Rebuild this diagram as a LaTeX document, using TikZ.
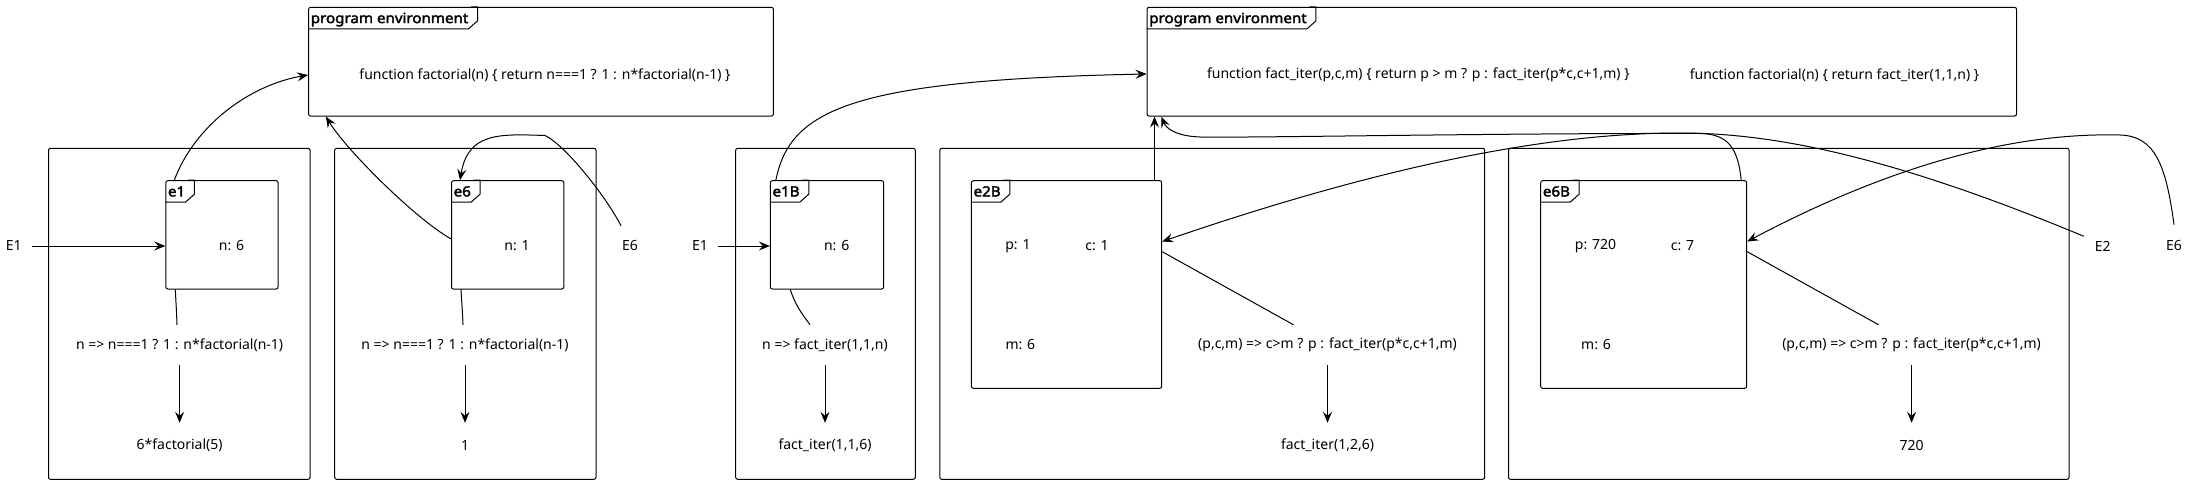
\documentclass[tikz,border=0pt]{standalone}
\usepackage{fontspec}
\setmainfont{Noto Sans}[BoldFont={Noto Sans}, BoldFeatures={FakeBold=2.5, FakeStretch=1.08}]
\usepackage{tikz}
\usetikzlibrary{arrows.meta,positioning,calc}

\newcommand{\dgsize}{\fontsize{14pt}{17pt}\selectfont}

\tikzset{
  envbox/.style={draw, rounded corners=2pt, line width=1pt, inner sep=0pt},
  tablabel/.style={font=\dgsize\bfseries, anchor=north west, inner xsep=2.5pt, inner ysep=0pt,
                   text height=16pt, text depth=5.6pt},
  codetext/.style={inner sep=0pt},
  exprtext/.style={inner sep=0pt, minimum height=40pt},
  valtext/.style={inner sep=0pt, minimum height=44pt},
  ptr/.style={inner sep=0pt},
  link/.style={line width=1pt},
  arr/.style={line width=1pt, -{Stealth[length=11pt,width=9pt,inset=4pt]}}
}

% tab in the upper left corner of a frame
\newcommand{\envtab}[2]{%
  \node[tablabel] (#1tab) at (#1.north west) {#2};
  \draw[line width=1pt] (#1tab.south west) -- ([xshift=-2.5pt]#1tab.south east) -- ++(9,-8) |- (#1tab.north east);
}

\begin{document}
\begin{tikzpicture}[x=1pt, y=-1pt, font=\dgsize]
    \useasboundingbox (0,0) rectangle (2188,484);

    % Recursive factorial: program environment
    \node[envbox, minimum width=464.8, minimum height=108.7] (PE1) at (541,61.7) {};
    \envtab{PE1}{program environment}
    \node[codetext] (defFact) at (545,75) {function factorial(n) \{ return n===1 ? 1 : n*factorial(n-1) \}};

    % Recursive factorial: call boxes
    \node[envbox, minimum width=261.5, minimum height=331] (boxA) at (179.25,313.8) {};
    \node[envbox, minimum width=261.3, minimum height=331] (boxB) at (465.35,313.8) {};

    \node[envbox, minimum width=112.2, minimum height=108.3] (e1) at (221.9,234.85) {};
    \envtab{e1}{e1}
    \node (e1n) at (231.5,246) {n: 6};
    \node[ptr] (E1a) at (13.8,246) {E1};
    \node[exprtext] (exprA) at (179.6,345) {n => n===1 ? 1 : n*factorial(n-1)};
    \node[valtext] (valA) at (179.6,445) {6*factorial(5)};

    \node[envbox, minimum width=112.3, minimum height=108.3] (e6) at (507.65,234.85) {};
    \envtab{e6}{e6}
    \node (e6n) at (517,246) {n: 1};
    \node[ptr] (E6a) at (630,246) {E6};
    \node[exprtext] (exprB) at (465,345) {n => n===1 ? 1 : n*factorial(n-1)};
    \node[valtext] (valB) at (465,445) {1};

    \draw[arr, shorten <=10pt] (E1a) -- (E1a -| e1.west);
    \draw[link] ([xshift=10]e1.south west) to[out=-87,in=92] ([xshift=-2.6]exprA.north);
    \draw[arr] (exprA) -- (valA);
    \draw[arr] ([xshift=9]e1.north west) .. controls (195,125) and (250,85) .. ([yshift=-13.3]PE1.west);

    \draw[link] ([xshift=10]e6.south west) to[out=-87,in=92] ([xshift=-2]exprB.north);
    \draw[arr] (exprB) -- (valB);
    \draw[arr] ([yshift=-4]e6.west) .. controls (416.5,219.6) and (347,151) .. ([xshift=17.8]PE1.south west);
    \draw[arr] ([xshift=-9,yshift=15]E6a.north) .. controls (605,195) and (565,145) .. (545,135.5)
        .. controls (500,134) and (468,132) .. ([xshift=9]e6.north west);

    % Iterative factorial: program environment
    \node[envbox, minimum width=869.5, minimum height=108.7] (PE2) at (1581.8,61.7) {};
    \envtab{PE2}{program environment}
    \node[codetext] (defIter) at (1418.3,75) {function fact\_iter(p,c,m) \{ return p > m ? p : fact\_iter(p*c,c+1,m) \}};
    \node[codetext] (defFact2) at (1834.5,75) {function factorial(n) \{ return fact\_iter(1,1,n) \}};

    % Iterative factorial: call boxes
    \node[envbox, minimum width=179.6, minimum height=331] (boxC) at (825.5,313.8) {};
    \node[envbox, minimum width=544.9, minimum height=331] (boxD) at (1212.25,313.8) {};
    \node[envbox, minimum width=560.5, minimum height=331] (boxE) at (1788.75,313.8) {};

    \node[envbox, minimum width=113.3, minimum height=108.3] (e1B) at (827,234.85) {};
    \envtab{e1B}{e1B}
    \node (e1Bn) at (836.7,246) {n: 6};
    \node[ptr] (E1b) at (700,246) {E1};
    \node[exprtext] (exprC) at (825,345) {n => fact\_iter(1,1,n)};
    \node[valtext] (valC) at (825,445) {fact\_iter(1,1,6)};

    \node[envbox, minimum width=190.3, minimum height=207.6] (e2B) at (1066.55,284.5) {};
    \envtab{e2B}{e2B}
    \node (e2Bp) at (1017.9,246) {p: 1};
    \node (e2Bc) at (1097,246) {c: 1};
    \node (e2Bm) at (1020.4,345) {m: 6};
    \node[exprtext] (exprD) at (1327.5,345) {(p,c,m) => c>m ? p : fact\_iter(p*c,c+1,m)};
    \node[valtext] (valD) at (1327.5,445) {fact\_iter(1,2,6)};

    \node[envbox, minimum width=206, minimum height=207.6] (e6B) at (1643.7,284.5) {};
    \envtab{e6B}{e6B}
    \node (e6Bp) at (1595.5,246) {p: 720};
    \node (e6Bc) at (1682.5,246) {c: 7};
    \node (e6Bm) at (1596,345) {m: 6};
    \node[exprtext] (exprE) at (1911.6,345) {(p,c,m) => c>m ? p : fact\_iter(p*c,c+1,m)};
    \node[valtext] (valE) at (1911.6,445) {720};

    \node[ptr] (E2) at (2102.8,246) {E2};
    \node[ptr] (E6b) at (2174,246) {E6};

    \draw[arr, shorten <=10pt] (E1b) -- (E1b -| e1B.west);
    \draw[link] ([xshift=20.4]e1B.south west) to[out=-72,in=126] ([xshift=-15]exprC.north);
    \draw[arr] (exprC) -- (valC);
    \draw[arr] ([xshift=6]e1B.north west) .. controls (790,110) and (850,80) .. ([yshift=-12.3]PE2.west);

    \coordinate (e2Btop) at ([xshift=-7.7]e2B.north east);
    \draw[arr] (e2Btop) -- (e2Btop |- PE2.south);
    \draw[link] ([yshift=32.8]e2B.east) -- ([xshift=-34]exprD.north);
    \draw[arr] (exprD) -- (valD);

    \draw[link] ([yshift=32.8]e6B.east) -- ([xshift=-33]exprE.north);
    \draw[arr] (exprE) -- (valE);
    \draw[arr] ([xshift=-6]e6B.north east) .. controls (1738,148) and (1728,134) .. (1700,133.5)
        .. controls (1500,133) and (1250,138) .. (1200,137)
        .. controls (1175,136) and (1166,128) .. ([xshift=14.7]PE2.south west);

    \draw[arr] ([xshift=-11,yshift=4.5]E2.north west) .. controls (1900,160) and (1780,133) .. (1680,133)
        .. controls (1560,133) and (1400,160) .. ([yshift=43]e2B.east);
    \draw[arr] ([yshift=16]E6b.north) .. controls (2166,165) and (2155,136) .. (2120,135)
        .. controls (2040,133) and (1920,150) .. ([yshift=43]e6B.east);
\end{tikzpicture}
\end{document}
